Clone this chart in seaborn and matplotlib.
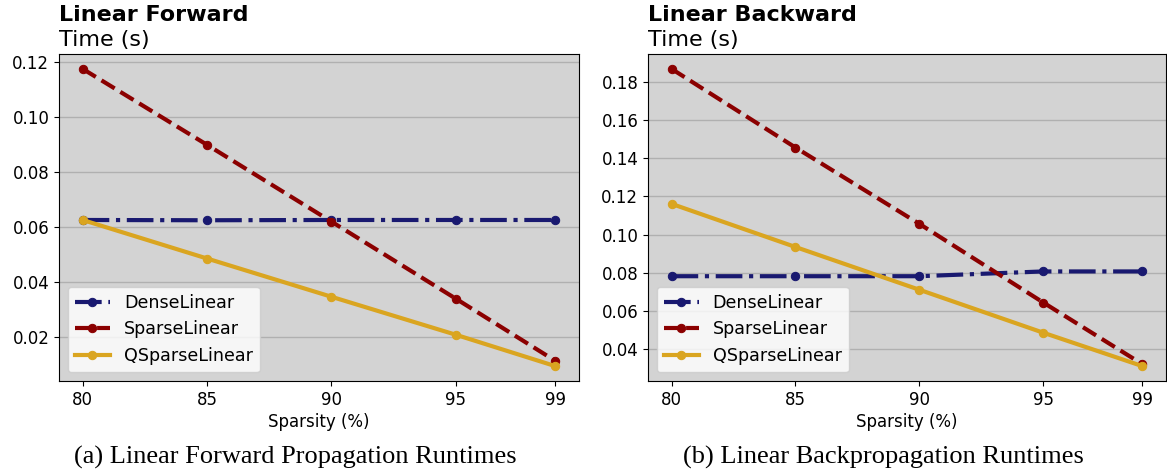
import matplotlib
matplotlib.use("Agg")
import matplotlib.pyplot as plt
import seaborn as sns
import pandas as pd

sparsity = [80, 85, 90, 95, 99]

fwd_dense = [0.0625, 0.0624, 0.0625, 0.0625, 0.0625]
fwd_sparse = [0.1174, 0.0898, 0.0619, 0.0339, 0.0113]
fwd_qsparse = [0.0625, 0.0485, 0.0346, 0.0208, 0.0094]

bwd_dense = [0.0782, 0.0782, 0.0782, 0.0807, 0.0807]
bwd_sparse = [0.1868, 0.1456, 0.1056, 0.0644, 0.0321]
bwd_qsparse = [0.1161, 0.0935, 0.0711, 0.0486, 0.0311]

series_names = ["DenseLinear", "SparseLinear", "QSparseLinear"]
colors = {"DenseLinear": "#191970", "SparseLinear": "#8B0000", "QSparseLinear": "#DAA520"}
styles = {"DenseLinear": "-.", "SparseLinear": "--", "QSparseLinear": "-"}

titles = ["Linear Forward", "Linear Backward"]
captions = ["(a) Linear Forward Propagation Runtimes", "(b) Linear Backpropagation Runtimes"]

W, H = 1167, 472
fig = plt.figure(figsize=(W / 100, H / 100), dpi=100)

def px_axes(l, r, t, b):
    return [l / W, 1 - b / H, (r - l) / W, (b - t) / H]

ax1 = fig.add_axes(px_axes(59, 579, 54, 381))
ax2 = fig.add_axes(px_axes(648, 1166, 54, 381))

datasets = [
    (ax1, [fwd_dense, fwd_sparse, fwd_qsparse]),
    (ax2, [bwd_dense, bwd_sparse, bwd_qsparse]),
]

for i, (ax, vals) in enumerate(datasets):
    ax.set_facecolor("#D3D3D3")
    for name, v in zip(series_names, vals):
        df = pd.DataFrame({"Sparsity": sparsity, "Time": v})
        sns.lineplot(data=df, x="Sparsity", y="Time", ax=ax, color=colors[name],
                     linestyle=styles[name], linewidth=3, marker="o", markersize=6,
                     markeredgecolor=colors[name], markeredgewidth=0.75, label=name)
    ax.set_xticks(sparsity)
    ax.set_xticklabels([str(s) for s in sparsity])
    ax.tick_params(labelsize=12)
    ax.yaxis.grid(True, color="#b0b0b0", linewidth=1)
    ax.xaxis.grid(False)
    ax.set_axisbelow(True)
    ax.set_xlabel("Sparsity (%)", fontsize=12, labelpad=3)
    ax.set_ylabel("")
    ax.legend(loc="lower left", fontsize=12.6)
    ax.annotate("Time (s)", xy=(0, 1), xycoords="axes fraction", xytext=(0, 5.8),
                textcoords="offset points", ha="left", va="baseline", fontsize=16)
    ax.annotate(titles[i], xy=(0, 1), xycoords="axes fraction", xytext=(0, 24),
                textcoords="offset points", ha="left", va="baseline", fontsize=16,
                fontweight="bold")

fig.text(295 / W, 1 - 464 / H, captions[0], ha="center", va="baseline",
         family="Liberation Serif", fontsize=19)
fig.text(883 / W, 1 - 464 / H, captions[1], ha="center", va="baseline",
         family="Liberation Serif", fontsize=19)

fig.savefig("out.png", dpi=100)
